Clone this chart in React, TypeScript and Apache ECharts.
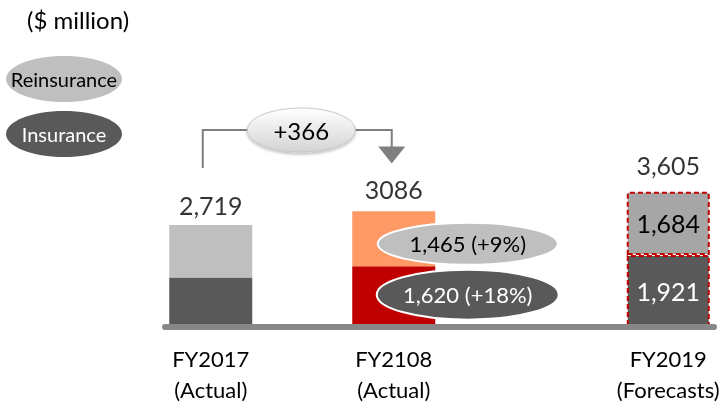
import React, { useEffect, useRef } from "react";
import * as echarts from "echarts";

const FONT = 'Lato, "Open Sans", sans-serif';

// Categories (empty slots keep the uneven spacing of the original slide)
const categories = ["FY2017\n(Actual)", "", "FY2108\n(Actual)", "", "", "FY2019\n(Forecasts)"];
const insurance: (number | null)[] = [1318, null, 1620, null, null, 1921];
const reinsurance: (number | null)[] = [1401, null, 1465, null, null, 1684];
const totalLabels = ["2,719", "", "3086", "", "", "3,605"];
const insuranceColors = ["#595959", "", "#C00000", "", "", "#595959"];
const reinsuranceColors = ["#BFBFBF", "", "#FF9966", "", "", "#A6A6A6"];
const forecastIndex = 5;
const growthIndex = 2;
const reinsuranceGrowth = "1,465 (+9%)";
const insuranceGrowth = "1,620 (+18%)";
const deltaLabel = "+366";
const unitLabel = "($ million)";
const legendNames = ["Reinsurance", "Insurance"];

export default function App() {
  const ref = useRef<HTMLDivElement>(null);
  useEffect(() => {
    const chart = echarts.init(ref.current!, null, { renderer: "svg", width: 726, height: 406 });
    const totals = insurance.map((v, i) => (v == null ? null : v + (reinsurance[i] as number)));
    const topDist = [8, 0, 10, 0, 0, 14];

    const mkItem = (v: number | null, i: number, colors: string[], labelColor: string) => {
      if (v == null) return "-";
      const item: any = { value: v, itemStyle: { color: colors[i] } };
      if (i === forecastIndex) {
        item.itemStyle.borderColor = "#C00000";
        item.itemStyle.borderWidth = 2;
        item.itemStyle.borderType = [5, 3];
        item.label = {
          show: true,
          position: "inside",
          formatter: (p: any) => Number(p.value).toLocaleString("en-US"),
          color: labelColor,
          fontSize: 25,
          fontFamily: FONT,
        };
      }
      return item;
    };

    chart.setOption({
      animation: false,
      grid: { left: 165, right: 12, top: 177, bottom: 79 },
      xAxis: {
        type: "category",
        data: categories,
        z: 10,
        axisTick: { show: false },
        axisLine: { lineStyle: { color: "#878787", width: 6 } },
        axisLabel: {
          interval: 0,
          color: "#000",
          fontSize: 22,
          lineHeight: 31,
          margin: 16,
          fontFamily: FONT,
        },
      },
      yAxis: { type: "value", min: 0, max: 4000, show: false, splitLine: { show: false } },
      series: [
        {
          type: "bar",
          stack: "total",
          barWidth: 83,
          data: insurance.map((v, i) => mkItem(v, i, insuranceColors, "#FFFFFF")),
        },
        {
          type: "bar",
          stack: "total",
          barWidth: 83,
          data: reinsurance.map((v, i) => mkItem(v, i, reinsuranceColors, "#000000")),
        },
        {
          type: "scatter",
          symbolSize: 0,
          z: 5,
          itemStyle: { color: "transparent" },
          data: totals.map((v, i) =>
            v == null
              ? "-"
              : { value: v, label: { show: true, position: "top", distance: topDist[i], formatter: totalLabels[i] } }
          ),
          label: { color: "#000", fontSize: 25, fontFamily: FONT },
        },
      ],
    });

    const px = (i: number, v: number) => chart.convertToPixel({ gridIndex: 0 }, [i, v]) as number[];
    const g = growthIndex;
    const insG = insurance[g] as number;
    const reG = reinsurance[g] as number;
    const [xG, yReMid] = px(g, insG + reG / 2);
    const [, yInsMid] = px(g, insG / 2);
    const [x0] = px(0, 0);
    const ex = xG + 74;

    const connectorY = 130;
    const leftX = x0 - 8;
    const rightX = xG - 2;
    const Z = 100;

    chart.setOption({
      graphic: [
        { type: "text", z: Z, left: 27, top: 7, style: { text: unitLabel, font: `24px ${FONT}`, fill: "#000" } },
        { type: "ellipse", z: Z, shape: { cx: 64, cy: 79, rx: 58, ry: 23 }, style: { fill: "#BFBFBF" } },
        {
          type: "text",
          z: Z,
          x: 64,
          y: 79,
          style: { text: legendNames[0], font: `20px ${FONT}`, fill: "#000", align: "center", verticalAlign: "middle" },
        },
        { type: "ellipse", z: Z, shape: { cx: 64, cy: 134, rx: 58, ry: 23 }, style: { fill: "#595959" } },
        {
          type: "text",
          z: Z,
          x: 64,
          y: 134,
          style: { text: legendNames[1], font: `20px ${FONT}`, fill: "#FFF", align: "center", verticalAlign: "middle" },
        },
        // connector
        {
          type: "polyline",
          z: Z,
          shape: { points: [[leftX, 168], [leftX, connectorY], [rightX, connectorY], [rightX, 148]] },
          style: { stroke: "#7F7F7F", lineWidth: 2, fill: null },
        },
        {
          type: "polygon",
          z: Z,
          shape: { points: [[rightX - 13.5, 146.5], [rightX + 13.5, 146.5], [rightX, 163.5]] },
          style: { fill: "#7F7F7F" },
        },
        {
          type: "ellipse",
          z: Z,
          shape: { cx: (leftX + rightX) / 2 + 4, cy: connectorY, rx: 54, ry: 22 },
          style: {
            fill: new echarts.graphic.LinearGradient(0, 0, 0, 1, [
              { offset: 0, color: "#FFFFFF" },
              { offset: 1, color: "#D4D4D4" },
            ]),
            stroke: "#C8C8C8",
            lineWidth: 1,
            shadowBlur: 3,
            shadowOffsetY: 2,
            shadowColor: "rgba(0,0,0,0.25)",
          },
        },
        {
          type: "text",
          z: Z + 1,
          x: (leftX + rightX) / 2 + 4,
          y: connectorY,
          style: { text: deltaLabel, font: `24px ${FONT}`, fill: "#000", align: "center", verticalAlign: "middle" },
        },
        // growth bubbles
        {
          type: "ellipse",
          z: Z,
          shape: { cx: ex, cy: yReMid + 5, rx: 90, ry: 21 },
          style: { fill: "#BFBFBF", stroke: "#FFFFFF", lineWidth: 2 },
        },
        {
          type: "text",
          z: Z + 1,
          x: ex,
          y: yReMid + 5,
          style: { text: reinsuranceGrowth, font: `22px ${FONT}`, fill: "#000", align: "center", verticalAlign: "middle" },
        },
        {
          type: "ellipse",
          z: Z,
          shape: { cx: ex, cy: yInsMid - 2, rx: 91, ry: 25 },
          style: { fill: "#595959", stroke: "#FFFFFF", lineWidth: 2 },
        },
        {
          type: "text",
          z: Z + 1,
          x: ex,
          y: yInsMid - 2,
          style: { text: insuranceGrowth, font: `22px ${FONT}`, fill: "#FFF", align: "center", verticalAlign: "middle" },
        },
      ],
    });

    return () => chart.dispose();
  }, []);
  return <div ref={ref} style={{ position: "fixed", left: 0, top: 0, width: 726, height: 406 }} />;
}
